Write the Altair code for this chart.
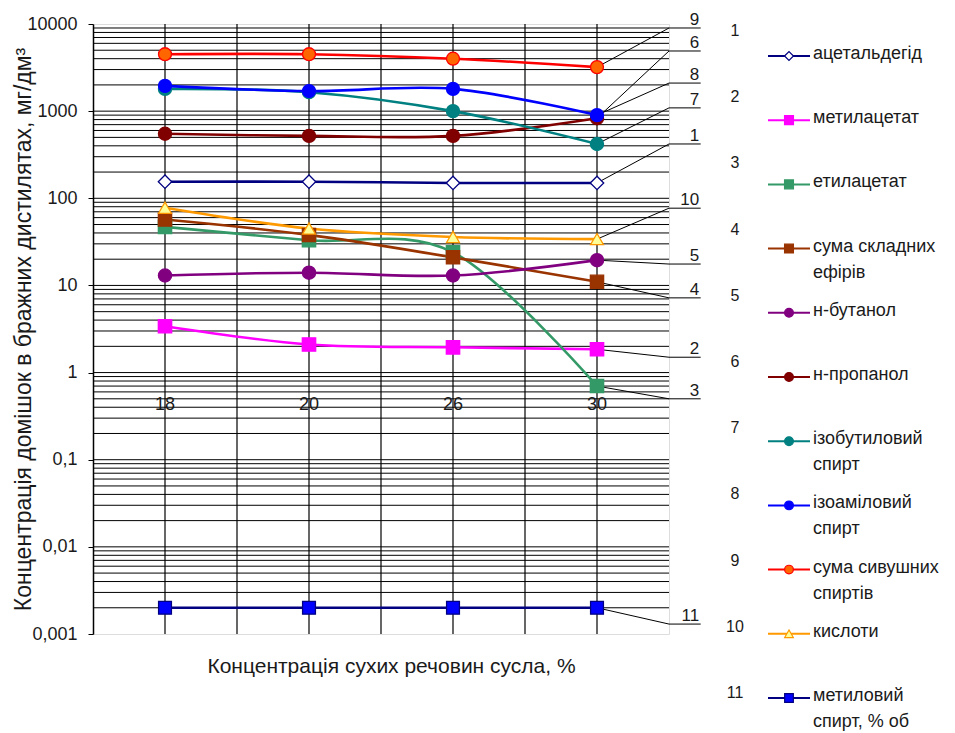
import altair as alt
import pandas as pd

# ---------------- data ----------------
categories = ["18", "20", "26", "30"]

series_names = [
    "ацетальдегід", "метилацетат", "етилацетат", "сума складних ефірів",
    "н-бутанол", "н-пропанол", "ізобутиловий спирт", "ізоаміловий спирт",
    "сума сивушних спиртів", "кислоти", "метиловий спирт, % об",
]
legend_text = [
    "ацетальдегід", "метилацетат", "етилацетат", "сума складних\nефірів",
    "н-бутанол", "н-пропанол", "ізобутиловий\nспирт", "ізоаміловий\nспирт",
    "сума сивушних\nспиртів", "кислоти", "метиловий\nспирт, % об",
]

acetaldehyde   = [155, 155, 150, 150]
methyl_acetate = [3.4, 2.1, 1.95, 1.85]
ethyl_acetate  = [47, 33, 24, 0.7]
esters_sum     = [57, 38, 21, 11]
n_butanol      = [13, 14, 13, 19.5]
n_propanol     = [550, 520, 520, 830]
isobutanol     = [1800, 1650, 1000, 420]
isoamyl        = [1950, 1700, 1800, 900]
fusel_sum      = [4500, 4500, 4000, 3200]
acids          = [78, 45, 36, 34]
methanol       = [0.002, 0.002, 0.002, 0.002]

series_values = [acetaldehyde, methyl_acetate, ethyl_acetate, esters_sum,
                 n_butanol, n_propanol, isobutanol, isoamyl, fusel_sum,
                 acids, methanol]

# level (data units) of each numbered call-out stub, series 1..11
callout_levels = [420, 1.5, 0.5, 7.2, 17.6, 4900, 1090, 2100, 9000, 77, 0.0013]

y_major = [0.001, 0.01, 0.1, 1, 10, 100, 1000, 10000]

# ---------------- styles ----------------
line_colors = ["#000080", "#FF00FF", "#339966", "#993300", "#800080", "#800000",
               "#008080", "#0000FF", "#FF0000", "#FF9900", "#000080"]
fill_colors = ["#FFFFFF", "#FF00FF", "#339966", "#993300", "#800080", "#800000",
               "#008080", "#0000FF", "#FF6600", "#FFFF99", "#0000FF"]
stroke_colors = ["#000080", "#FF00FF", "#339966", "#993300", "#800080", "#800000",
                 "#008080", "#0000FF", "#FF0000", "#FF9900", "#000080"]
shapes = ["diamond", "square", "square", "square", "circle", "circle",
          "circle", "circle", "circle", "triangle-up", "square"]
sizes = [180, 165, 165, 165, 190, 190, 190, 190, 190, 150, 165]
leg_sizes = [80, 75, 75, 75, 75, 75, 75, 75, 80, 90, 75]

FONT = "Liberation Sans"
TXT = "#1a1a1a"

# ---------------- tables ----------------
rows = []
for k, (name, vals) in enumerate(zip(series_names, series_values)):
    for j, v in enumerate(vals):
        rows.append({"series": name, "num": k + 1, "xi": j, "value": v})
df = pd.DataFrame(rows)

call_rows, call_text = [], []
for k, vals in enumerate(series_values):
    lvl = callout_levels[k]
    call_rows += [
        {"id": k + 1, "step": 0, "xi": 3.0, "value": vals[-1]},
        {"id": k + 1, "step": 1, "xi": 3.5, "value": lvl},
        {"id": k + 1, "step": 2, "xi": 3.72, "value": lvl},
    ]
    call_text.append({"id": str(k + 1), "xi": 3.71, "value": lvl})
call_df = pd.DataFrame(call_rows)
call_txt_df = pd.DataFrame(call_text)

hgrid = [m * 10.0 ** e for e in range(-3, 4) for m in range(1, 10)][1:]
hgrid_df = pd.DataFrame({"value": hgrid})
vgrid_df = pd.DataFrame({"xi": [0, 0.5, 1, 1.5, 2, 2.5, 3]})
cat_df = pd.DataFrame({"xi": list(range(len(categories))), "label": categories, "value": [1] * len(categories)})

x_scale = alt.Scale(domain=[-0.5, 3.5], nice=False, zero=False)
y_scale = alt.Scale(type="log", domain=[0.001, 10000], nice=False)

x_axis = alt.Axis(labels=False, ticks=False, domain=False, grid=False,
                  title="Концентрація сухих речовин сусла, %",
                  titleFontSize=21, titleFontWeight="normal", titleColor=TXT,
                  titlePadding=21, titleFont=FONT, titleX=298, titleAlign="center")
y_axis = alt.Axis(values=y_major, grid=False, tickSize=5, tickColor="#000",
                  domainColor="#000", domainWidth=1.5,
                  labelExpr="replace(format(datum.value, '~f'), '.', ',')",
                  labelFontSize=18, labelPadding=11, labelColor=TXT, labelFont=FONT,
                  title="Концентрація домішок в бражних дистилятах, мг/дм³",
                  titleFontSize=23, titleFontWeight="normal", titleColor=TXT,
                  titlePadding=-9, titleFont=FONT)

sname = alt.Scale(domain=series_names, range=line_colors)

grid_h = alt.Chart(hgrid_df).mark_rule(color="#000", strokeWidth=1).encode(
    y=alt.Y("value:Q", scale=y_scale, axis=y_axis))
grid_v = alt.Chart(vgrid_df).mark_rule(color="#000", strokeWidth=1.2).encode(
    x=alt.X("xi:Q", scale=x_scale, axis=x_axis))

lines = alt.Chart(df).mark_line(interpolate="cardinal", strokeWidth=2.6).encode(
    x=alt.X("xi:Q", scale=x_scale, axis=x_axis),
    y=alt.Y("value:Q", scale=y_scale, axis=y_axis),
    color=alt.Color("series:N", scale=sname, legend=None),
    order="xi:Q",
)

callouts = alt.Chart(call_df).mark_line(color="#000", strokeWidth=1).encode(
    x=alt.X("xi:Q", scale=x_scale, axis=x_axis),
    y=alt.Y("value:Q", scale=y_scale, axis=y_axis),
    detail="id:N", order="step:Q",
)

callout_labels = alt.Chart(call_txt_df).mark_text(
    align="right", baseline="alphabetic", dy=-3, fontSize=17, font=FONT, color=TXT
).encode(
    x=alt.X("xi:Q", scale=x_scale, axis=x_axis),
    y=alt.Y("value:Q", scale=y_scale, axis=y_axis),
    text="id:N",
)

point_enc = dict(
    shape=alt.Shape("series:N", scale=alt.Scale(domain=series_names, range=shapes), legend=None),
    fill=alt.Fill("series:N", scale=alt.Scale(domain=series_names, range=fill_colors), legend=None),
    stroke=alt.Stroke("series:N", scale=alt.Scale(domain=series_names, range=stroke_colors), legend=None),
)

points = alt.Chart(df).mark_point(opacity=1, fillOpacity=1, strokeWidth=1.3).encode(
    x=alt.X("xi:Q", scale=x_scale, axis=x_axis),
    y=alt.Y("value:Q", scale=y_scale, axis=y_axis),
    size=alt.Size("series:N", scale=alt.Scale(domain=series_names, range=sizes), legend=None),
    **point_enc,
)

cat_labels = alt.Chart(cat_df).mark_text(
    baseline="middle", dy=32, fontSize=18, font=FONT, color=TXT
).encode(
    x=alt.X("xi:Q", scale=x_scale, axis=x_axis),
    y=alt.Y("value:Q", scale=y_scale, axis=y_axis),
    text="label:N",
)

main = alt.layer(grid_h, grid_v, lines, callouts, points, callout_labels, cat_labels).properties(
    width=576, height=610
)

# ---------------- legend panel ----------------
leg_df = pd.DataFrame({
    "idx": list(range(len(series_names))),
    "series": series_names,
    "num": [str(i + 1) for i in range(len(series_names))],
    "label": legend_text,
})
leg_y = alt.Y("idx:Q", scale=alt.Scale(domain=[-0.498, 10.405], reverse=True, nice=False, zero=False), axis=None)
num_y = alt.Y("idx:Q", scale=alt.Scale(domain=[-0.106, 10.468], reverse=True, nice=False, zero=False), axis=None)

leg_num = alt.Chart(leg_df).mark_text(fontSize=16, font=FONT, color=TXT, align="center",
                                      baseline="middle").encode(
    x=alt.value(15), y=num_y, text="num:N")
leg_line = alt.Chart(leg_df).mark_rule(strokeWidth=2).encode(
    x=alt.value(48), x2=alt.value(90), y=leg_y,
    color=alt.Color("series:N", scale=sname, legend=None))
leg_pt = alt.Chart(leg_df).mark_point(opacity=1, fillOpacity=1, strokeWidth=1.2).encode(
    x=alt.value(69), y=leg_y,
    size=alt.Size("series:N", scale=alt.Scale(domain=series_names, range=leg_sizes), legend=None),
    **point_enc)
leg_txt = alt.Chart(leg_df).mark_text(fontSize=18, font=FONT, color=TXT, align="left",
                                      baseline="top", dy=-11, lineBreak="\n", lineHeight=26).encode(
    x=alt.value(93), y=leg_y, text="label:N")

legend = alt.layer(leg_num, alt.layer(leg_line, leg_pt, leg_txt)).resolve_scale(y="independent").properties(
    width=200, height=700, view=alt.ViewBackground(stroke="transparent")
)

chart = alt.hconcat(main, legend, spacing=51, bounds="flush").resolve_scale(
    color="shared", shape="shared", fill="shared", stroke="shared", size="independent"
).properties(
    padding={"left": 4, "top": 2, "right": 0, "bottom": 0}
).configure_view(stroke="#888", strokeWidth=1.5).configure(font=FONT)

chart.save("out.html", embed_options={"renderer": "svg", "actions": False})
